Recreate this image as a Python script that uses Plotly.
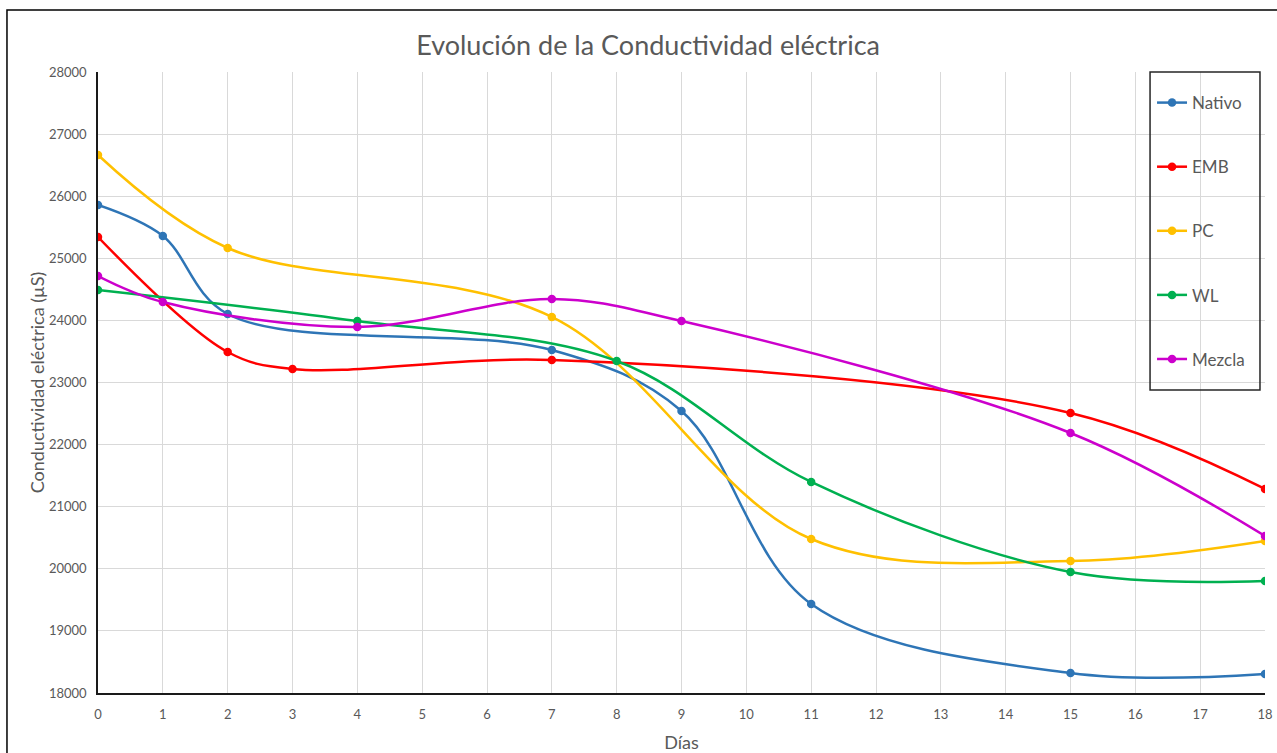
import plotly.graph_objects as go

nativo_x = [0, 1, 2, 7, 9, 11, 15, 18]
nativo_y = [25858, 25360, 24103, 23523, 22541, 19433, 18322, 18306]

emb_x = [0, 2, 3, 7, 15, 18]
emb_y = [25343, 23491, 23217, 23362, 22509, 21285]

pc_x = [0, 2, 7, 11, 15, 18]
pc_y = [26663, 25166, 24055, 20480, 20126, 20448]

wl_x = [0, 4, 8, 11, 15, 18]
wl_y = [24490, 23990, 23346, 21398, 19948, 19804]

mezcla_x = [0, 1, 4, 7, 9, 15, 18]
mezcla_y = [24715, 24296, 23894, 24345, 23990, 22187, 20528]

series = [
    ("Nativo", nativo_x, nativo_y, "#2E75B6"),
    ("EMB", emb_x, emb_y, "#FF0000"),
    ("PC", pc_x, pc_y, "#FFC000"),
    ("WL", wl_x, wl_y, "#00B050"),
    ("Mezcla", mezcla_x, mezcla_y, "#CC00CC"),
]

FONT = "Lato, Noto Sans, sans-serif"
GREY = "#595959"

fig = go.Figure()
for i, (name, xs, ys, col) in enumerate(series):
    fig.add_trace(go.Scatter(
        x=xs, y=ys, name=name, mode="lines+markers",
        line=dict(color=col, width=2.5, shape="spline", smoothing=1.0),
        marker=dict(color=col, size=8.5),
        legendgroup=f"g{i}",
    ))

fig.update_layout(
    width=1277, height=753,
    margin=dict(l=98, r=12, t=72, b=60, autoexpand=False),
    paper_bgcolor="white", plot_bgcolor="white",
    font=dict(family=FONT, color=GREY),
    title=dict(text="Evolución de la Conductividad eléctrica", x=0.5075, xanchor="center",
               y=0.94, yanchor="middle", font=dict(size=27, color=GREY, family=FONT)),
    showlegend=True,
    legend=dict(x=0.9032, y=0.979, xanchor="left", yanchor="top",
                borderwidth=0, bgcolor="rgba(0,0,0,0)",
                font=dict(size=17, color=GREY, family=FONT),
                tracegroupgap=39, traceorder="grouped",
                itemwidth=30),
    xaxis=dict(range=[0, 18], tickmode="linear", dtick=1, showgrid=True,
               gridcolor="#D9D9D9", gridwidth=1, zeroline=False,
               showline=True, linecolor="#1a1a1a", linewidth=1.5,
               ticks="", ticklabelstandoff=9, tickfont=dict(size=13, color=GREY),
               title=dict(text="Días", font=dict(size=18, color=GREY), standoff=18)),
    yaxis=dict(range=[18000, 28000], tickmode="linear", dtick=1000, tickformat="d",
               showgrid=True, gridcolor="#D9D9D9", gridwidth=1, zeroline=False,
               showline=True, linecolor="#1a1a1a", linewidth=1.5,
               ticks="", ticklabelstandoff=7, tickfont=dict(size=13, color=GREY),
               title=dict(text="Conductividad eléctrica (µS)", font=dict(size=18, color=GREY), standoff=0)),
)

# outer chart frame
fig.add_shape(type="rect", xref="paper", yref="paper",
              x0=-0.078, x1=1.03, y0=-0.15, y1=1.0998,
              line=dict(color="#000000", width=1.5), fillcolor="rgba(0,0,0,0)", layer="below")
# legend frame
fig.add_shape(type="rect", xref="paper", yref="paper",
              x0=0.9015, x1=0.9957, y0=0.4879, y1=1.0,
              line=dict(color="#262626", width=1.5), fillcolor="rgba(0,0,0,0)", layer="above")

fig.write_html("out.html", config={"displayModeBar": False},
               post_script="document.body.style.margin='0';document.body.style.overflow='hidden';")
